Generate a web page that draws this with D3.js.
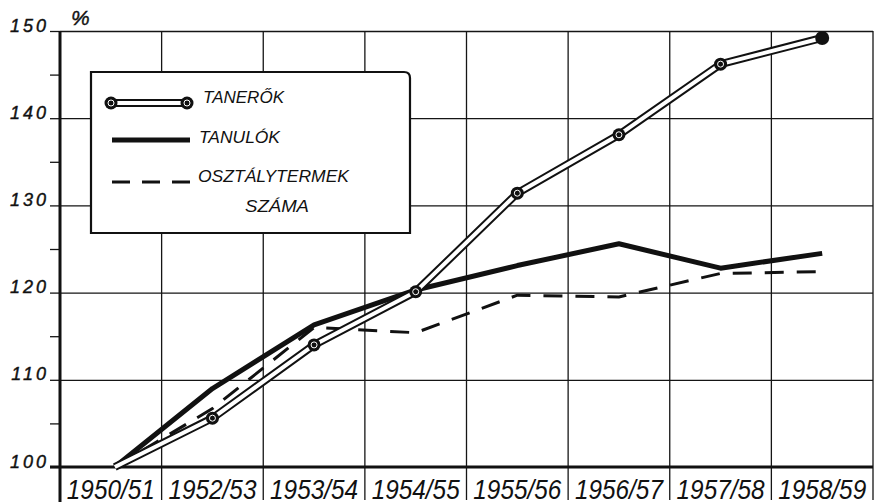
<!DOCTYPE html>
<html>
<head>
<meta charset="utf-8">
<script src="https://cdn.jsdelivr.net/npm/d3@7"></script>
<style>
  html, body { margin: 0; padding: 0; background: #fff; }
  svg { display: block; }
  text { font-family: "Liberation Sans", Arial, sans-serif; font-style: italic; fill: #111; }
</style>
</head>
<body>
<svg id="chart" width="878" height="504"></svg>
<script>
// School years shown on the horizontal axis
const categories = ["1950/51", "1952/53", "1953/54", "1954/55", "1955/56", "1956/57", "1957/58", "1958/59"];

// Index values, 1950/51 = 100 %
const tanerok = [100, 105.6, 114.0, 120.1, 131.4, 138.1, 146.2, 149.2];        // teachers
const tanulok = [100, 109.0, 116.3, 120.3, 123.1, 125.6, 122.8, 124.5];        // pupils
const osztalytermek = [100, 106.7, 116.0, 115.4, 119.7, 119.5, 122.2, 122.4];  // number of classrooms

// Axis ticks
const yMajorTicks = [100, 110, 120, 130, 140, 150];
const yMinorTicks = [105, 115, 125, 135, 145];
const yGridTicks = [110, 120, 130, 140, 150];

// Legend labels
const legendLabels = ["TANERŐK", "TANULÓK", "OSZTÁLYTERMEK", "SZÁMA"];

const svg = d3.select("#chart");
const plotLeft = 60, plotRight = 873, plotTop = 31, plotBase = 467, sepBottom = 500;

const x = d3.scaleBand().domain(categories).range([plotLeft, plotRight]).paddingInner(0).paddingOuter(0);
const y = d3.scaleLinear().domain([100, 150]).range([plotBase, plotTop]);
const cx = d => x(d) + x.bandwidth() / 2;

// Horizontal grid lines
svg.append("g")
  .attr("transform", `translate(${plotLeft},0)`)
  .call(d3.axisLeft(y).tickValues(yGridTicks).tickSize(-(plotRight - plotLeft)).tickFormat(""))
  .call(g => g.select(".domain").remove())
  .call(g => g.selectAll("line").attr("stroke", "#151515").attr("stroke-width", 1.3));

// Column separators, running down between the year labels
const separators = categories.slice(1).map(c => x(c)).concat([x.range()[1]]);
svg.append("g").selectAll("line").data(separators).join("line")
  .attr("x1", d => d).attr("x2", d => d)
  .attr("y1", plotTop).attr("y2", sepBottom)
  .attr("stroke", "#151515").attr("stroke-width", 1.3);

// Minor ticks on the value axis
svg.append("g")
  .attr("transform", `translate(${plotLeft},0)`)
  .call(d3.axisLeft(y).tickValues(yMinorTicks).tickSize(10).tickFormat(""))
  .call(g => g.select(".domain").remove())
  .call(g => g.selectAll("line").attr("stroke", "#151515").attr("stroke-width", 1.3));

// Major ticks and labels on the value axis
svg.append("g")
  .attr("transform", `translate(${plotLeft},0)`)
  .call(d3.axisLeft(y).tickValues(yMajorTicks).tickSize(10).tickPadding(1).tickFormat(d3.format("d")))
  .call(g => g.select(".domain").remove())
  .call(g => g.selectAll("line").attr("stroke", "#151515").attr("stroke-width", 1.3))
  .call(g => g.selectAll("text")
    .attr("dy", "0")
    .attr("fill", "#111")
    .attr("stroke", "#111")
    .attr("stroke-width", 0.4)
    .style("font-size", "18px")
    .style("letter-spacing", "3px")
    .style("font-family", "'Liberation Sans', Arial, sans-serif")
    .style("font-style", "italic"));

// Percent sign above the value axis
svg.append("text").attr("x", 71).attr("y", 25)
  .attr("stroke", "#111").attr("stroke-width", 0.4)
  .style("font-size", "21px").text("%");

// Left axis line and baseline
svg.append("line").attr("x1", plotLeft).attr("x2", plotLeft).attr("y1", plotTop).attr("y2", 502)
  .attr("stroke", "#111").attr("stroke-width", 3);
svg.append("line").attr("x1", 50).attr("x2", plotRight).attr("y1", y(100)).attr("y2", y(100))
  .attr("stroke", "#111").attr("stroke-width", 3);

// Year labels
svg.append("g")
  .attr("transform", `translate(0,${plotBase})`)
  .call(d3.axisBottom(x).tickSize(0).tickPadding(32))
  .call(g => g.select(".domain").remove())
  .call(g => g.selectAll("text")
    .attr("dy", "0")
    .attr("fill", "#111")
    .attr("textLength", 88)
    .attr("lengthAdjust", "spacingAndGlyphs")
    .style("font-size", "27px")
    .style("font-family", "'Liberation Sans', Arial, sans-serif")
    .style("font-style", "italic"));

// Legend box (white, covering the grid), rounded top-right corner
const L = { x0: 91, y0: 72, x1: 410, y1: 233, r: 6 };
svg.append("path")
  .attr("d", `M${L.x0},${L.y0} H${L.x1 - L.r} Q${L.x1},${L.y0} ${L.x1},${L.y0 + L.r} V${L.y1} H${L.x0} Z`)
  .attr("fill", "#fff").attr("stroke", "#111").attr("stroke-width", 2.2);

const line = d3.line().x((d, i) => cx(categories[i]) + (i === 0 ? 4 : 0)).y(d => y(d));

// Classrooms: dashed line
svg.append("path").datum(osztalytermek)
  .attr("d", line).attr("fill", "none")
  .attr("stroke", "#111").attr("stroke-width", 3)
  .attr("stroke-dasharray", "19,13");

// Pupils: heavy solid line
svg.append("path").datum(tanulok)
  .attr("d", line).attr("fill", "none")
  .attr("stroke", "#111").attr("stroke-width", 5).attr("stroke-linejoin", "round");

// Teachers: hollow double line with round markers
svg.append("path").datum(tanerok)
  .attr("d", line).attr("fill", "none")
  .attr("stroke", "#111").attr("stroke-width", 8);
svg.append("path").datum(tanerok)
  .attr("d", line).attr("fill", "none")
  .attr("stroke", "#fff").attr("stroke-width", 4);

function marker(g, px, py, solid) {
  g.append("circle").attr("cx", px).attr("cy", py).attr("r", solid ? 7 : 6.5).attr("fill", "#111");
  if (!solid) {
    g.append("circle").attr("cx", px).attr("cy", py).attr("r", 3)
      .attr("fill", "none").attr("stroke", "#fff").attr("stroke-width", 1);
  }
}
const markers = svg.append("g");
tanerok.forEach((v, i) => {
  if (i === 0) return;
  marker(markers, cx(categories[i]), y(v), i === tanerok.length - 1);
});

// Legend entries
const lg = svg.append("g");
lg.append("line").attr("x1", 111).attr("x2", 187).attr("y1", 103).attr("y2", 103)
  .attr("stroke", "#111").attr("stroke-width", 8);
lg.append("line").attr("x1", 111).attr("x2", 187).attr("y1", 103).attr("y2", 103)
  .attr("stroke", "#fff").attr("stroke-width", 4);
marker(lg, 111, 103, false);
marker(lg, 187, 103, false);
lg.append("line").attr("x1", 112).attr("x2", 190).attr("y1", 140).attr("y2", 140)
  .attr("stroke", "#111").attr("stroke-width", 5);
lg.append("line").attr("x1", 112).attr("x2", 192).attr("y1", 182).attr("y2", 182)
  .attr("stroke", "#111").attr("stroke-width", 3).attr("stroke-dasharray", "18,12");

const legendText = [
  { t: legendLabels[0], x: 203, y: 103, w: 81 },
  { t: legendLabels[1], x: 199, y: 143, w: 81 },
  { t: legendLabels[2], x: 198, y: 182, w: 151 },
  { t: legendLabels[3], x: 245, y: 212, w: 64 }
];
lg.selectAll("text.lt").data(legendText).join("text")
  .attr("class", "lt")
  .attr("x", d => d.x).attr("y", d => d.y)
  .attr("textLength", d => d.w).attr("lengthAdjust", "spacingAndGlyphs")
  .style("font-size", "16px")
  .text(d => d.t);
</script>
</body>
</html>
